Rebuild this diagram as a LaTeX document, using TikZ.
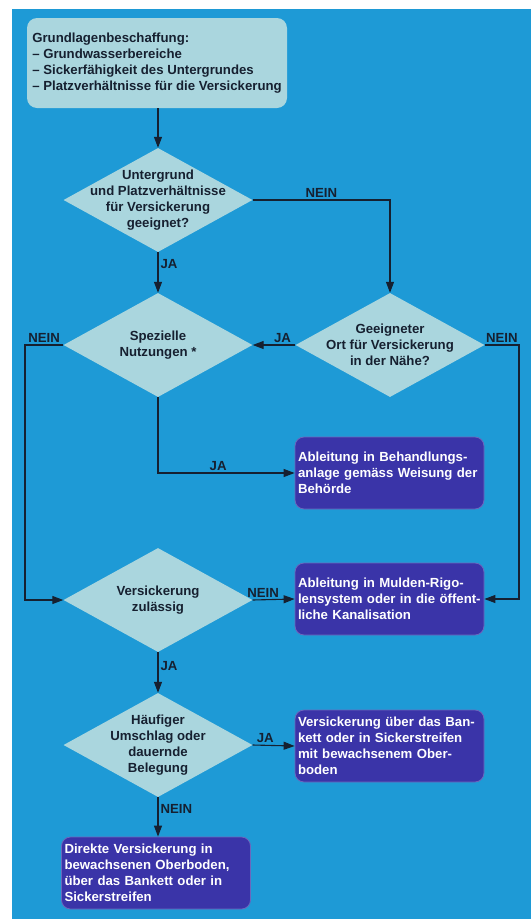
\documentclass[tikz,border=0pt]{standalone}
\usepackage{fontspec}
\setmainfont{Liberation Sans}
\usetikzlibrary{shapes.geometric,arrows.meta}

\definecolor{bgblue}{RGB}{30,154,214}
\definecolor{paleblue}{RGB}{170,214,222}
\definecolor{boxviolet}{RGB}{58,52,168}
\definecolor{inkdark}{RGB}{22,32,48}

\tikzset{
  startbox/.style={rectangle, rounded corners=10pt, fill=paleblue, minimum width=260pt, minimum height=90pt, inner sep=4pt, align=left, text=inkdark},
  endbox/.style={rectangle, rounded corners=9pt, fill=boxviolet, draw=boxviolet!75!white, line width=0.8pt, minimum width=189pt, minimum height=72pt, text width=183pt, inner sep=3pt, align=left, text=white},
  decision/.style={diamond, fill=paleblue, minimum width=189pt, minimum height=104pt, inner sep=0pt},
  dtext/.style={align=center, text=inkdark, inner sep=0pt},
  conn/.style={draw=inkdark, line width=1.1pt, -{Triangle[length=11pt,width=8pt]}},
  lbl/.style={text=inkdark, inner sep=2pt}
}

\begin{document}
\begin{tikzpicture}[x=1pt, y=-1pt, font=\fontsize{13.2}{16}\selectfont\bfseries]
	% page and background
	\useasboundingbox (0,0) rectangle (531,919);
	\fill [bgblue] (12,9) rectangle (531,919);
	% start box
	\node [startbox] (start) at (157,63) {Grundlagenbeschaffung:\\ -- Grundwasserbereiche\\ -- Sickerfähigkeit des Untergrundes\\ -- Platzverhältnisse für die Versickerung};
	% decisions
	\node [decision] (d1) at (158,200) {};
	\node [dtext] (t1) at (d1) {Untergrund\\ und Platzverhältnisse\\ für Versickerung\\ geeignet?};
	\node [decision] (d2) at (390,345) {};
	\node [dtext] (t2) at (d2) {Geeigneter\\ Ort für Versickerung\\ in der Nähe?};
	\node [decision] (d3) at (158,345) {};
	\node [dtext] (t3) at (d3) {Spezielle\\ Nutzungen *};
	\node [decision] (d4) at (158,600) {};
	\node [dtext] (t4) at (d4) {Versickerung\\ zulässig};
	\node [decision] (d5) at (158,745) {};
	\node [dtext] (t5) at (d5) {Häufiger\\ Umschlag oder\\ dauernde\\ Belegung};
	% end boxes
	\node [endbox] (behand) at (389.5,473) {Ableitung in Behandlungs-\\ anlage gemäss Weisung der\\ Behörde};
	\node [endbox] (mulden) at (389.5,599) {Ableitung in Mulden-Rigo-\\ lensystem oder in die öffent-\\ liche Kanalisation};
	\node [endbox] (bankett) at (389.5,746) {Versickerung über das Ban-\\ kett oder in Sickerstreifen\\ mit bewachsenem Ober-\\ boden};
	\node [endbox] (direkt) at (156,873) {Direkte Versickerung in\\ bewachsenen Oberboden,\\ über das Bankett oder in\\ Sickerstreifen};
	% helper corners
	\coordinate (rr) at (519,345);
	\coordinate (ll) at (25,345);
	\coordinate (c3) at (d3.south |- behand.west);
	% connectors
	\draw [conn] (start.south -| d1.north) -- (d1.north);
	\draw [conn] (d1.east) -- node [lbl, above] (nein1) {NEIN} (d1.east -| d2.north) -- (d2.north);
	\draw [conn] (d1.south) -- node [lbl, right, pos=0.3] (ja1) {JA} (d3.north);
	\draw [conn] (d2.west) -- node [lbl, above, pos=0.3] (ja2) {JA} (d3.east);
	\draw [conn] (d2.east) -- node [lbl, above] (nein2) {NEIN} (rr) |- (mulden.east);
	\draw [conn] (d3.west) -- node [lbl, above] (nein3) {NEIN} (ll) |- (d4.west);
	\draw [conn] (d3.south) -- (c3) -- node [lbl, above, pos=0.44] (ja3) {JA} (behand.west);
	\draw [conn] (d4.east) -- node [lbl, above, pos=0.25] (nein4) {NEIN} (mulden.west);
	\draw [conn] (d4.south) -- node [lbl, right, pos=0.35] (ja4) {JA} (d5.north);
	\draw [conn] (d5.east) -- node [lbl, above, pos=0.3] (ja5) {JA} (bankett.west);
	\draw [conn] (d5.south) -- node [lbl, right, pos=0.3] (nein5) {NEIN} (direkt.north -| d5.south);
\end{tikzpicture}
\end{document}
